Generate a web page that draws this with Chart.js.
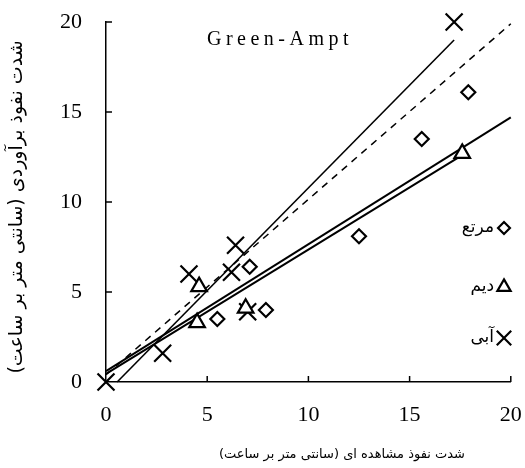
<!DOCTYPE html>
<html>
<head>
<meta charset="utf-8">
<script src="https://cdn.jsdelivr.net/npm/chart.js@4/dist/chart.umd.min.js"></script>
<style>
html,body{margin:0;padding:0;background:#fff;}
#wrap{width:525px;height:468px;}
</style>
</head>
<body>
<div id="wrap"><canvas id="c" width="525" height="468"></canvas></div>
<script>
// ---- data ----
const axisTicks = [0, 5, 10, 15, 20];
const chartTitle = 'Green-Ampt';
const xTitle = 'شدت نفوذ مشاهده ای (سانتی متر بر ساعت)';
const yTitle = 'شدت نفوذ برآوردی (سانتی متر بر ساعت)';
const seriesNames = ['مرتع', 'دیم', 'آبی'];

const rangelandX = [7.1, 5.5, 7.9, 12.5, 15.6, 17.9];
const rangelandY = [6.4, 3.5, 4.0, 8.1, 13.5, 16.1];
const dryX = [4.6, 4.5, 6.9, 17.6];
const dryY = [5.3, 3.3, 4.1, 12.7];
const irrigX = [0, 2.8, 4.1, 6.4, 6.2, 7.0, 17.2];
const irrigY = [0, 1.6, 6.0, 7.6, 6.1, 3.9, 20.0];

// fitted / reference lines (endpoints)
const line11X = [0, 20];
const line11Y = [0.4, 19.9];
const irrigFitX = [0.55, 17.2];
const irrigFitY = [0, 19.0];
const rangeFitX = [0, 20];
const rangeFitY = [0.6, 14.7];
const dryFitX = [0, 17.6];
const dryFitY = [0.45, 12.6];

const pts = (xs, ys) => xs.map((x, i) => ({x: x, y: ys[i]}));

const markerStyles = [
  {pointStyle: 'rectRot', radius: 7},
  {pointStyle: 'triangle', radius: 9},
  {pointStyle: 'crossRot', radius: 12}
];

const lineDs = (xs, ys, w, dash) => ({
  type: 'scatter', data: pts(xs, ys), showLine: true, borderColor: '#000',
  borderWidth: w, borderDash: dash || [], pointRadius: 0, pointHoverRadius: 0, fill: false, clip: false
});
const markDs = (xs, ys, k) => ({
  type: 'scatter', data: pts(xs, ys), showLine: false, clip: false,
  pointStyle: markerStyles[k].pointStyle, pointRadius: markerStyles[k].radius,
  pointBorderColor: '#000', pointBackgroundColor: '#fff', pointBorderWidth: 2.2, label: seriesNames[k]
});

const serif = '"Liberation Serif", "Times New Roman", serif';
const arab = '"DejaVu Sans", sans-serif';

const decor = {
  id: 'decor',
  afterDraw(chart) {
    const ctx = chart.ctx;
    const xs = chart.scales.x, ys = chart.scales.y;
    const x0 = xs.getPixelForValue(0), y0 = ys.getPixelForValue(0);
    ctx.save();
    ctx.strokeStyle = '#000';
    ctx.lineWidth = 1.5;
    // inward tick marks
    axisTicks.forEach(v => {
      if (v === 0) return;
      const px = xs.getPixelForValue(v);
      ctx.beginPath(); ctx.moveTo(px, y0); ctx.lineTo(px, y0 - 6); ctx.stroke();
      const py = ys.getPixelForValue(v);
      ctx.beginPath(); ctx.moveTo(x0, py); ctx.lineTo(x0 + 6, py); ctx.stroke();
    });
    // title
    ctx.fillStyle = '#000';
    ctx.font = '20px ' + serif;
    ctx.textAlign = 'center'; ctx.textBaseline = 'middle';
    try { ctx.letterSpacing = '4.5px'; } catch (e) {}
    ctx.fillText(chartTitle, 280, 40);
    try { ctx.letterSpacing = '0px'; } catch (e) {}
    // axis titles
    ctx.font = '13px ' + arab;
    ctx.direction = 'rtl';
    ctx.textAlign = 'center';
    ctx.fillText(xTitle, 342, 455);
    ctx.save();
    ctx.translate(17, 207);
    ctx.rotate(-Math.PI / 2);
    ctx.font = '19px ' + arab;
    ctx.fillText(yTitle, 0, 0);
    ctx.restore();
    // legend
    const legY = [228, 287, 338];
    seriesNames.forEach((n, i) => {
      ctx.fillStyle = '#000';
      ctx.font = '17px ' + arab;
      ctx.direction = 'rtl';
      ctx.textAlign = 'right';
      ctx.textBaseline = 'middle';
      ctx.fillText(n, 494, legY[i]);
      ctx.lineWidth = 2.2; ctx.strokeStyle = '#000'; ctx.fillStyle = '#fff';
      Chart.helpers.drawPoint(ctx, {pointStyle: markerStyles[i].pointStyle, radius: markerStyles[i].radius * 0.85, borderWidth: 2.2}, 504, legY[i]);
    });
    ctx.restore();
  }
};

new Chart(document.getElementById('c'), {
  type: 'scatter',
  data: {
    datasets: [
      markDs(dryX, dryY, 1),
      markDs(irrigX, irrigY, 2),
      markDs(rangelandX, rangelandY, 0),
      lineDs(line11X, line11Y, 1.5, [7, 6]),
      lineDs(irrigFitX, irrigFitY, 1.6),
      lineDs(rangeFitX, rangeFitY, 2),
      lineDs(dryFitX, dryFitY, 2)
    ]
  },
  options: {
    responsive: false,
    animation: false,
    layout: {padding: 0},
    plugins: {legend: {display: false}, tooltip: {enabled: false}, title: {display: false}},
    scales: {
      x: {
        type: 'linear', min: 0, max: 20,
        afterFit(s) { s.height = 86; s.paddingLeft = 0; s.paddingRight = 14; },
        grid: {display: false, drawTicks: false},
        border: {display: true, color: '#000', width: 1.5},
        ticks: {stepSize: 5, padding: 20, color: '#000', font: {family: serif, size: 22}},
        title: {display: false}
      },
      y: {
        type: 'linear', min: 0, max: 20,
        afterFit(s) { s.width = 106; s.paddingTop = 22; s.paddingBottom = 0; },
        grid: {display: false, drawTicks: false},
        border: {display: true, color: '#000', width: 1.5},
        ticks: {stepSize: 5, padding: 24, color: '#000', font: {family: serif, size: 22}},
        title: {display: false}
      }
    }
  },
  plugins: [decor]
});
</script>
</body>
</html>
